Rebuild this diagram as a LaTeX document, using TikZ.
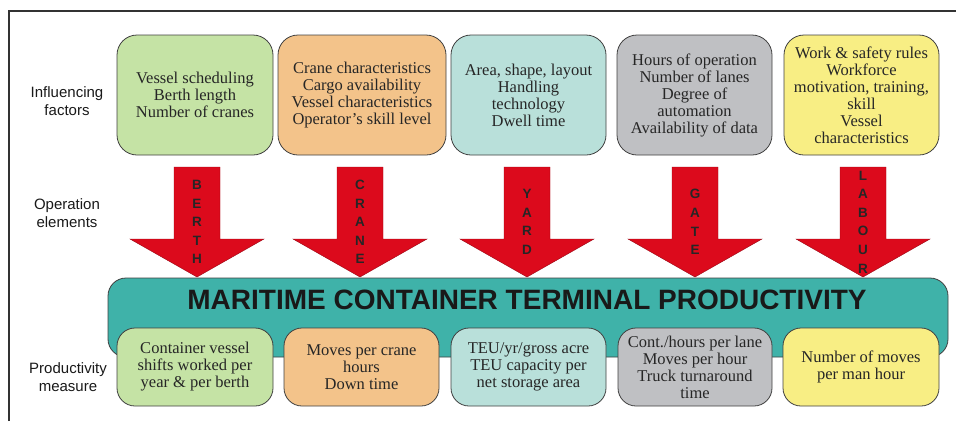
\documentclass[tikz,border=0pt]{standalone}
\usepackage{fontspec}
\setmainfont{Liberation Serif}
\setsansfont{Liberation Sans}

\definecolor{berthgreen}{HTML}{C5E3A5}
\definecolor{craneorange}{HTML}{F3C38A}
\definecolor{yardteal}{HTML}{B9E0DA}
\definecolor{gategray}{HTML}{BFC0C3}
\definecolor{labouryellow}{HTML}{F8EE84}
\definecolor{bannerteal}{HTML}{3FB2A9}
\definecolor{opred}{HTML}{DC0A1C}

\begin{document}
\begin{tikzpicture}[x=1pt, y=-1pt,
        factor/.style={draw=black!75, line width=0.8pt, rounded corners=20pt,
            minimum width=155pt, minimum height=120pt, inner sep=1pt,
            align=center, text=black!85, font=\fontsize{16.5}{17}\selectfont},
        measure/.style={factor, rounded corners=18pt, minimum height=78pt},
        rowlabel/.style={align=center, text=black!90,
            font=\sffamily\fontsize{15}{18}\selectfont},
        letters/.style={align=center, text=black!85, inner sep=0pt,
            font=\sffamily\bfseries\fontsize{13.5}{18.6}\selectfont}
    ]
    \useasboundingbox (0,0) rectangle (956,421);

    % frame
    \draw[black!80, line width=1.2pt] (9,421) -- (9,11) -- (956,11);

    % row labels
    \node (lblfactors) at (67,101) [rowlabel] {Influencing\\factors};
    \node (lblelements) at (67,213) [rowlabel] {Operation\\elements};
    \node (lblmeasure) at (68,377) [rowlabel] {Productivity\\measure};

    % influencing factors
    \node (berthf) at (195,95) [factor, fill=berthgreen, minimum width=156pt]
        {Vessel scheduling\\Berth length\\Number of cranes};
    \node (cranef) at (362,95) [factor, fill=craneorange, minimum width=168pt]
        {Crane characteristics\\Cargo availability\\Vessel characteristics\\Operator's skill level};
    \node (yardf) at (528.5,95) [factor, fill=yardteal]
        {Area, shape, layout\\Handling\\technology\\Dwell time};
    \node (gatef) at (694.5,95) [factor, fill=gategray]
        {Hours of operation\\Number of lanes\\Degree of\\automation\\Availability of data};
    \node (labourf) at (861.5,95) [factor, fill=labouryellow]
        {Work \& safety rules\\Workforce\\motivation, training,\\skill\\Vessel\\characteristics};

    % banner
    \node (terminal) at (528,317.5) [draw=black!75, line width=0.8pt, fill=bannerteal,
        rounded corners=18pt, minimum width=840pt, minimum height=79pt] {};
    \node (title) at (527,300) [text=black!90,
        font=\sffamily\bfseries\fontsize{28}{30}\selectfont]
        {MARITIME CONTAINER TERMINAL PRODUCTIVITY};

    % operation elements
    \foreach \x/\name/\word in {197/berth/{B\\E\\R\\T\\H}, 360/crane/{C\\R\\A\\N\\E},
            527/yard/{Y\\A\\R\\D}, 695/gate/{G\\A\\T\\E}, 863/labour/{L\\A\\B\\O\\U\\R}}{
        \filldraw[fill=opred, draw=opred!70!black, line width=0.4pt]
            (\x-23,167) -- (\x+23,167) -- (\x+23,239) -- (\x+67,239)
            -- (\x,277) -- (\x-67,239) -- (\x-23,239) -- cycle;
        \node (\name) at (\x,222) [letters] {\word};
    }

    % productivity measures
    \node (berthm) at (195,367) [measure, fill=berthgreen, minimum width=156pt]
        {Container vessel\\shifts worked per\\year \& per berth};
    \node (cranem) at (361.5,367) [measure, fill=craneorange]
        {Moves per crane\\hours\\Down time};
    \node (yardm) at (528.5,367) [measure, fill=yardteal]
        {TEU/yr/gross acre\\TEU capacity per\\net storage area};
    \node (gatem) at (695,367) [measure, fill=gategray, minimum width=154pt]
        {Cont./hours per lane\\Moves per hour\\Truck turnaround\\time};
    \node (labourm) at (861,367) [measure, fill=labouryellow, minimum width=156pt]
        {Number of moves\\per man hour};
\end{tikzpicture}
\end{document}
